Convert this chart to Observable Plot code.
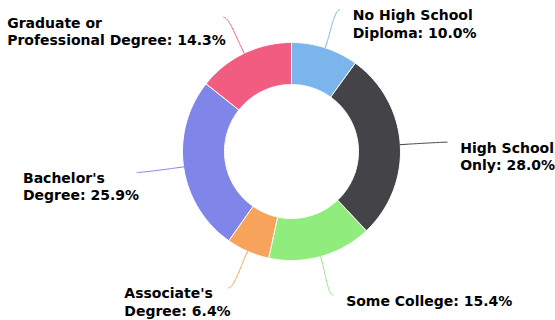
<!DOCTYPE html>
<html><head><meta charset="utf-8">
<script src="https://cdn.jsdelivr.net/npm/d3@7"></script>
<script src="https://cdn.jsdelivr.net/npm/@observablehq/plot@0.6"></script>
<style>body{margin:0;background:#fff}</style>
</head><body><div id="chart"></div>
<script>
// Data
const categories = ["No High School\nDiploma", "High School\nOnly", "Some College", "Associate's\nDegree", "Bachelor's\nDegree", "Graduate or\nProfessional Degree"];
const values = [10.0, 28.0, 15.4, 6.4, 25.9, 14.3];
const colors = ["#7cb5ec", "#434348", "#90ed7d", "#f7a35c", "#8085e9", "#f15c80"];

// Layout
const W = 555, H = 320, cx = 291, cy = 151, R = 109, r0 = 67;
const labelDistX = 47, labelDistY = 40, breakDist = 8;
const FONT = "bold 14px 'DejaVu Sans'";
const ctx = document.createElement("canvas").getContext("2d");
ctx.font = FONT;

const arcs = d3.pie().sort(null).value(d => d)(values);
const pt = (r, a) => [r * Math.sin(a), -r * Math.cos(a)];

// slice polygons
const slices = [];
arcs.forEach((a, i) => {
  const n = 80;
  for (let k = 0; k <= n; k++) {
    const t = a.startAngle + (a.endAngle - a.startAngle) * k / n;
    const [x, y] = pt(R, t);
    slices.push({name: categories[i], x, y});
  }
  for (let k = n; k >= 0; k--) {
    const t = a.startAngle + (a.endAngle - a.startAngle) * k / n;
    const [x, y] = pt(r0, t);
    slices.push({name: categories[i], x, y});
  }
});

// connectors and labels
const connectors = [];
const labels = [];
arcs.forEach((a, i) => {
  const mid = (a.startAngle + a.endAngle) / 2;
  const right = mid < Math.PI;
  const touch = pt(R, mid), brk = pt(R + breakDist, mid);
  const end = [(R + labelDistX) * Math.sin(mid), -(R + labelDistY) * Math.cos(mid)];
  const c1 = [end[0] + (right ? -5 : 5), end[1]];
  const c2 = [2 * brk[0] - touch[0], 2 * brk[1] - touch[1]];
  const m = 30;
  for (let k = 0; k <= m; k++) {
    const t = k / m, u = 1 - t;
    const x = u*u*u*end[0] + 3*u*u*t*c1[0] + 3*u*t*t*c2[0] + t*t*t*brk[0];
    const y = u*u*u*end[1] + 3*u*u*t*c1[1] + 3*u*t*t*c2[1] + t*t*t*brk[1];
    connectors.push({name: categories[i], x, y});
  }
  connectors.push({name: categories[i], x: touch[0], y: touch[1]});
  const text = categories[i] + ": " + values[i].toFixed(1) + "%";
  const w = d3.max(text.split("\n"), s => ctx.measureText(s).width);
  labels.push({text, x: right ? end[0] + 13 : end[0] + 2 - w, y: end[1] - 2});
});

const chart = Plot.plot({
  width: W, height: H, margin: 0,
  x: {domain: [-cx, W - cx], range: [0, W], axis: null},
  y: {domain: [-cy, H - cy], range: [0, H], axis: null},
  color: {domain: categories, range: colors},
  marks: [
    Plot.line(slices, {x: "x", y: "y", z: "name", fill: "name", stroke: "white", strokeWidth: 1, curve: "linear-closed"}),
    Plot.line(connectors, {x: "x", y: "y", z: "name", stroke: "name", strokeWidth: 1}),
    Plot.text(labels, {x: "x", y: "y", text: "text", textAnchor: "start", lineAnchor: "top", lineHeight: 1.25,
      fontFamily: "DejaVu Sans", fontWeight: "bold", fontSize: 14, fill: "#000"})
  ]
});
chart.style.background = "#fff";
document.getElementById("chart").append(chart);
</script>
</body></html>
